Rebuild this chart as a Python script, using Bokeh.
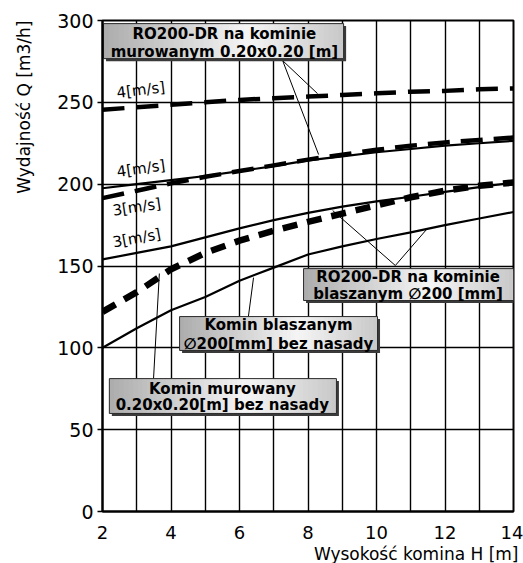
import math
from bokeh.plotting import figure
from bokeh.models import Range1d, SingleIntervalTicker, Label, Title
from bokeh.embed import file_html
from bokeh.resources import INLINE

# ---- data ----
height_m = [2, 3, 4, 5, 6, 7, 8, 9, 10, 11, 12, 13, 14]
ro_mur_4 = [245.5, 247, 248.5, 250, 251.5, 252.5, 253.5, 254.5, 255.5, 256.5, 257, 258, 258.5]
ro_mur_3 = [191.5, 196, 200.5, 204.5, 208, 211.5, 215, 218, 221, 223.5, 225.5, 227, 228.5]
ro_bl_4 = [197.5, 200, 202.5, 205, 208, 211, 214.5, 217, 219.5, 221.5, 223.5, 225, 226.5]
ro_bl_3 = [154, 158, 162, 167.5, 173, 178, 182.5, 186.3, 189.5, 192.3, 195.3, 198.2, 201]
mur_bez = [122, 134, 148, 158, 165.5, 171.5, 177, 182, 187, 192, 196, 199, 201]
bl_bez = [100, 112, 123, 131, 141, 149, 157, 162, 166.5, 170.5, 175, 179, 183]

y_ticks = [0, 50, 100, 150, 200, 250, 300]
x_ticks = [2, 4, 6, 8, 10, 12, 14]

FONT = "DejaVu Sans"

p = figure(width=523, height=563, x_range=Range1d(2, 14), y_range=Range1d(0, 300),
           min_border_left=102, min_border_right=10, min_border_top=20, min_border_bottom=52,
           output_backend="svg", toolbar_location=None)
p.background_fill_color = "white"
p.border_fill_color = "white"
p.outline_line_color = "black"
p.outline_line_width = 2

p.xaxis.ticker = x_ticks
p.yaxis.ticker = y_ticks
p.xgrid.ticker = SingleIntervalTicker(interval=1)
p.ygrid.ticker = SingleIntervalTicker(interval=50)
for g in (p.xgrid, p.ygrid):
    g.grid_line_color = "black"
    g.grid_line_width = 1.4
    g.grid_line_alpha = 1.0

for ax in (p.xaxis, p.yaxis):
    ax.axis_line_color = "black"
    ax.axis_line_width = 2
    ax.minor_tick_line_color = None
    ax.major_tick_in = 0
    ax.major_label_text_font = FONT
    ax.major_label_text_color = "black"
p.xaxis.major_label_text_font_size = "18px"
p.yaxis.major_label_text_font_size = "19px"
p.xaxis.major_tick_out = 0
p.xaxis.major_label_standoff = 14
p.yaxis.major_tick_out = 5
p.yaxis.major_tick_line_width = 1.5
p.yaxis.major_label_standoff = 4
# invisible spacer label to widen the y axis panel
p.yaxis.axis_label = " "
p.yaxis.axis_label_standoff = 12
p.yaxis.axis_label_text_font_size = "1px"

# ---- axis titles ----
p.add_layout(Title(text="Wydajność Q [m3/h]", align="right", standoff=10,
                   text_font=FONT, text_font_size="17px",
                   text_font_style="normal", text_color="black"), "left")
p.add_layout(Title(text="Wysokość komina H [m]", align="right", standoff=0, offset=-5,
                   text_font=FONT, text_font_size="17px", text_font_style="normal",
                   text_color="black"), "below")

# ---- curves ----
p.line(height_m, ro_bl_4, line_color="black", line_width=2.2)
p.line(height_m, ro_bl_3, line_color="black", line_width=2.2)
p.line(height_m, bl_bez, line_color="black", line_width=2.2)
p.line(height_m, ro_mur_4, line_color="black", line_width=4.5, line_dash="22 12")
p.line(height_m, ro_mur_3, line_color="black", line_width=4.5, line_dash="22 11")
p.line(height_m, mur_bez, line_color="black", line_width=6.5, line_dash="15 10")

# ---- speed labels ----
for txt, x, y, ang in [("4[m/s]", 3.12, 257.5, 7), ("4[m/s]", 3.12, 209.5, 8),
                       ("3[m/s]", 3.0, 186.0, 8.5), ("3[m/s]", 3.0, 167.0, 10.5)]:
    p.add_layout(Label(x=x, y=y, text=txt, angle=math.radians(ang), text_align="center",
                       text_baseline="middle", text_font=FONT, text_font_size="15px",
                       text_color="black"))

# ---- leader lines ----
p.segment(x0=[7.26, 7.26, 10.55, 10.55, 6.26, 3.49],
          y0=[275.5, 275.5, 150.3, 150.3, 119.1, 81.2],
          x1=[8.28, 8.31, 8.72, 11.46, 6.41, 3.66],
          y1=[255.3, 218.1, 183.9, 172.3, 142.9, 145.4],
          line_color="black", line_width=1)

# ---- gradient boxes ----
PX_X = 12 / 411.0
PX_Y = 300 / 491.0


def shade(t):
    if t < 0.6:
        g = 172 + (245 - 172) * t / 0.6
    else:
        g = 245 - (245 - 200) * (t - 0.6) / 0.4
    g = int(round(g))
    return "#%02x%02x%02x" % (g, g, g)


def draw_box(x0, x1, y0, y1, lines, cx, ys):
    p.quad(left=[x0 + 2.5 * PX_X], right=[x1 + 2.5 * PX_X], bottom=[y0 - 2.5 * PX_Y],
           top=[y1 - 2.5 * PX_Y], fill_color="#3a3a3a", line_color=None)
    n = 48
    w = (x1 - x0) / n
    lefts = [x0 + i * w for i in range(n)]
    rights = [x0 + (i + 1) * w + w * 0.3 for i in range(n)]
    rights[-1] = x1
    colors = [shade((i + 0.5) / n) for i in range(n)]
    p.quad(left=lefts, right=rights, bottom=[y0] * n, top=[y1] * n,
           fill_color=colors, line_color=None)
    p.quad(left=[x0], right=[x1], bottom=[y0], top=[y1], fill_color=None,
           line_color="#2a2a2a", line_width=1)
    for t, yy in zip(lines, ys):
        p.add_layout(Label(x=cx, y=yy, text=t, text_align="center", text_baseline="middle",
                           text_font=FONT, text_font_style="bold", text_font_size="15px",
                           text_color="black"))


draw_box(2.03, 9.04, 276.7, 298.1, ["RO200-DR na kominie", "murowanym 0.20x0.20 [m]"],
         5.56, [291.6, 280.6])
draw_box(7.87, 14.0, 128.9, 148.4, ["RO200-DR na kominie", "blaszanym \u2205200 [mm]"],
         10.92, [143.2, 133.0])
draw_box(4.25, 10.03, 98.4, 119.1, ["Komin blaszanym", "\u2205200[mm] bez nasady"],
         7.14, [113.8, 102.6])
draw_box(2.2, 8.83, 59.9, 81.2, ["Komin murowany", "0.20x0.20[m] bez nasady"],
         5.5, [75.0, 65.0])

open("out.html", "w").write(file_html(p, INLINE))
